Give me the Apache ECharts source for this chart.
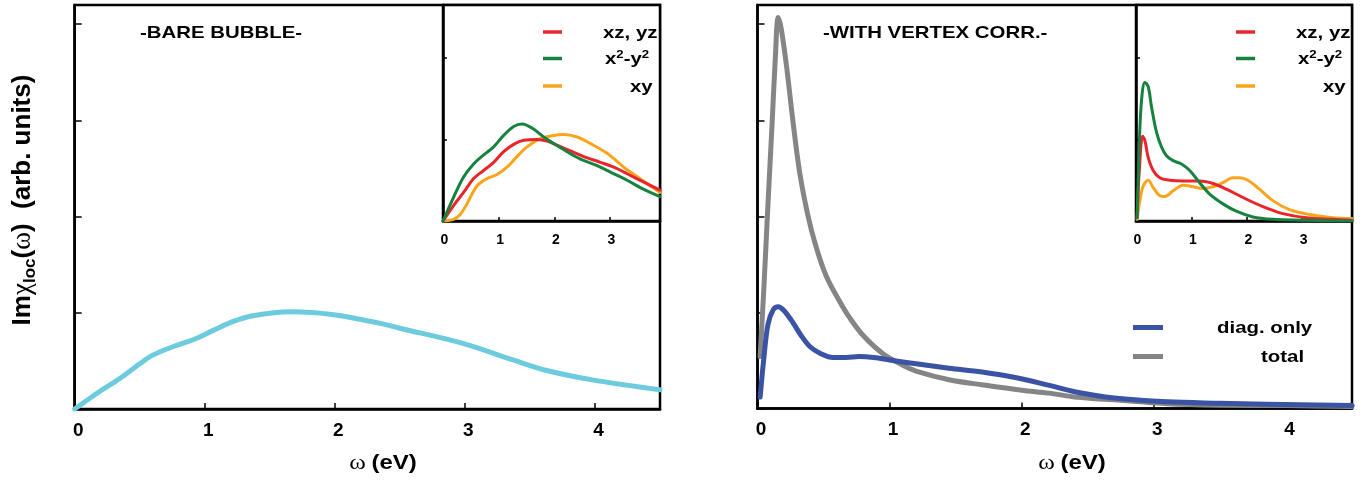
<!DOCTYPE html>
<html>
<head>
<meta charset="utf-8">
<script src="https://cdn.jsdelivr.net/npm/echarts@6/dist/echarts.min.js"></script>
<style>
  html, body { margin: 0; padding: 0; background: #fff; }
  #chart { width: 1368px; height: 481px; }
</style>
</head>
<body>
<div id="chart"></div>
<script>
// ---- data: Im chi_loc(omega), arbitrary units ----
// main panel, bare bubble
const omegaBare = [0, 0.2, 0.35, 0.5, 0.6, 0.76, 0.91, 1.07, 1.22, 1.37, 1.66, 1.99, 2.35, 2.5, 2.99, 3.37, 3.63, 3.99, 4.5];
const bareBubble = [0, 0.19, 0.32, 0.47, 0.56, 0.65, 0.72, 0.82, 0.91, 0.97, 1.01, 0.98, 0.89, 0.84, 0.68, 0.51, 0.40, 0.30, 0.20];

// main panel, with vertex corrections
const omegaDiag = [0.02, 0.05, 0.08, 0.12, 0.157, 0.2, 0.27, 0.33, 0.4, 0.48, 0.57, 0.67, 0.77, 0.88, 1.0, 1.2, 1.45, 1.7, 1.96, 2.21, 2.4, 2.7, 3.1, 3.5, 3.85, 4.5];
const diagOnly = [0.12, 0.55, 0.88, 1.03, 1.06, 1.02, 0.89, 0.76, 0.64, 0.57, 0.53, 0.53, 0.54, 0.53, 0.505, 0.465, 0.42, 0.38, 0.32, 0.24, 0.175, 0.11, 0.07, 0.055, 0.045, 0.03];
const omegaTotal = [0.02, 0.05, 0.08, 0.11, 0.135, 0.157, 0.18, 0.22, 0.27, 0.32, 0.38, 0.44, 0.52, 0.62, 0.7, 0.8, 0.95, 1.1, 1.2, 1.45, 1.71, 2.0, 2.21, 2.4, 2.8, 3.1, 3.5, 4.0, 4.5];
const total = [0.54, 1.30, 2.15, 2.95, 3.65, 4.07, 3.95, 3.56, 2.97, 2.45, 2.02, 1.70, 1.38, 1.12, 0.94, 0.76, 0.57, 0.45, 0.39, 0.30, 0.245, 0.19, 0.16, 0.12, 0.08, 0.05, 0.035, 0.03, 0.02];

// inset, bare bubble by orbital
const omegaBareXZ = [0, 0.19, 0.37, 0.55, 0.73, 0.91, 1.09, 1.27, 1.45, 1.69, 1.87, 2.05, 2.29, 2.53, 2.83, 3.07, 3.31, 3.6, 3.9];
const bareXZ = [0, 0.19, 0.35, 0.52, 0.62, 0.72, 0.85, 0.94, 0.99, 1.0, 0.98, 0.93, 0.86, 0.79, 0.72, 0.66, 0.58, 0.48, 0.38];
const omegaBareX2Y2 = [0, 0.19, 0.37, 0.55, 0.73, 0.91, 1.09, 1.27, 1.42, 1.6, 1.81, 1.99, 2.23, 2.47, 2.77, 3.01, 3.31, 3.6, 3.9];
const bareX2Y2 = [0, 0.29, 0.54, 0.70, 0.81, 0.91, 1.05, 1.16, 1.19, 1.14, 1.03, 0.95, 0.85, 0.76, 0.68, 0.60, 0.50, 0.39, 0.30];
const omegaBareXY = [0, 0.19, 0.31, 0.43, 0.61, 0.79, 0.97, 1.15, 1.33, 1.51, 1.75, 1.99, 2.17, 2.41, 2.65, 2.95, 3.25, 3.54, 3.9];
const bareXY = [0, 0.02, 0.08, 0.21, 0.43, 0.52, 0.57, 0.66, 0.79, 0.91, 1.01, 1.05, 1.06, 1.03, 0.95, 0.83, 0.66, 0.52, 0.35];

// inset, with vertex corrections by orbital
const omegaVtxXZ = [0.02, 0.06, 0.12, 0.16, 0.22, 0.31, 0.43, 0.61, 0.85, 1.15, 1.39, 1.63, 1.87, 2.11, 2.35, 2.65, 3.07, 3.55, 3.9];
const vtxXZ = [0.04, 0.62, 1.04, 0.99, 0.78, 0.62, 0.53, 0.50, 0.49, 0.49, 0.46, 0.39, 0.31, 0.23, 0.16, 0.09, 0.04, 0.02, 0.01];
const omegaVtxX2Y2 = [0.02, 0.06, 0.1, 0.16, 0.22, 0.28, 0.37, 0.46, 0.55, 0.67, 0.82, 0.97, 1.15, 1.33, 1.57, 1.81, 2.11, 2.47, 2.95, 3.9];
const vtxX2Y2 = [0.04, 0.95, 1.48, 1.70, 1.65, 1.40, 1.09, 0.91, 0.80, 0.74, 0.70, 0.62, 0.47, 0.33, 0.21, 0.12, 0.05, 0.02, 0.01, 0.0];
const omegaVtxXY = [0.02, 0.07, 0.13, 0.22, 0.31, 0.43, 0.52, 0.67, 0.85, 1.03, 1.21, 1.39, 1.57, 1.75, 1.87, 2.02, 2.23, 2.47, 2.77, 3.13, 3.55, 3.9];
const vtxXY = [0.02, 0.25, 0.43, 0.50, 0.41, 0.31, 0.30, 0.37, 0.44, 0.42, 0.40, 0.42, 0.47, 0.53, 0.53, 0.50, 0.39, 0.25, 0.14, 0.08, 0.04, 0.03];

// tick labels
const mainTicks = [0, 1, 2, 3, 4];
const insetTicks = [0, 1, 2, 3];

// ---- styling ----
const SANS = '"Liberation Sans", Arial, Helvetica, sans-serif';
const SERIF = '"Liberation Serif", "DejaVu Serif", serif';
const C = {
  cyan: '#6ccbdc', blue: '#3a53a4', gray: '#858585',
  red: '#e8262a', green: '#17823f', orange: '#f8a51c'
};

const pairs = (xs, ys) => xs.map((x, i) => [x, ys[i]]);

function xAxisFor(gridIndex, max, ticks, size, tickLen, margin, pad) {
  return {
    type: 'value', gridIndex, min: 0, max, interval: 1,
    axisLine: { show: true, onZero: false, lineStyle: { color: '#000', width: 2.5 } },
    axisTick: { show: true, inside: true, length: tickLen, lineStyle: { color: '#000', width: 1.5 } },
    axisLabel: {
      show: true, color: '#000', fontSize: size, fontWeight: 'bold', fontFamily: SANS,
      margin, padding: [0, 0, 0, pad], showMaxLabel: true,
      formatter: v => (ticks.includes(v) ? String(v) : '')
    },
    splitLine: { show: false }
  };
}
function yAxisFor(gridIndex, max, tickLen) {
  return {
    type: 'value', gridIndex, min: 0, max, interval: 1,
    axisLine: { show: true, onZero: false, lineStyle: { color: '#000', width: 2.5 } },
    axisTick: { show: true, inside: true, length: tickLen, lineStyle: { color: '#000', width: 1.5 } },
    axisLabel: { show: false },
    splitLine: { show: false }
  };
}
function line(idx, xs, ys, color, width, z) {
  return {
    type: 'line', xAxisIndex: idx, yAxisIndex: idx, data: pairs(xs, ys),
    symbol: 'none', showSymbol: false, smooth: 0.35,
    lineStyle: { color, width, cap: 'round', join: 'round' }, z, silent: true
  };
}

// text helpers for graphic elements
function label(x, y, text, opts) {
  opts = opts || {};
  return {
    type: 'text', x, y, scaleX: opts.scaleX || 1.2, scaleY: 1, rotation: opts.rotation || 0, z: 100,
    style: {
      text, fill: '#000',
      fontSize: opts.fontSize || 17, fontWeight: 'bold', fontFamily: SANS,
      align: opts.align || 'left', textAlign: opts.align || 'left',
      verticalAlign: 'middle', textVerticalAlign: 'middle',
      rich: opts.rich
    }
  };
}
function legendMark(x1, x2, y, color, w) {
  return { type: 'line', z: 100, shape: { x1, y1: y, x2, y2: y }, style: { stroke: color, lineWidth: w } };
}

const supRich = {
  m: { fontSize: 17, fontWeight: 'bold', fontFamily: SANS, fill: '#000', color: '#000', lineHeight: 20 },
  sup: { fontSize: 11, fontWeight: 'bold', fontFamily: SANS, fill: '#000', color: '#000', lineHeight: 11, verticalAlign: 'top' }
};
const orbitalLabels = [
  { text: '{m|xz, yz}', color: C.red },
  { text: '{m|x}{sup|2}{m|-y}{sup|2}', color: C.green },
  { text: '{m|xy}', color: C.orange }
];
const orbitalTextX = [603, 605, 630];
const orbitalRowY = [32, 58.5, 86];

function insetLegend(dx) {
  const items = [];
  orbitalLabels.forEach((o, i) => {
    items.push(legendMark(543 + dx, 562 + dx, orbitalRowY[i], o.color, 3.5));
    items.push(label(orbitalTextX[i] + dx, orbitalRowY[i] + 1, o.text, { rich: supRich }));
  });
  return items;
}

const axisNameRich = {
  g: { fontSize: 21, fontFamily: SERIF, fontWeight: 'normal', fill: '#000', color: '#000' },
  b: { fontSize: 20, fontFamily: SANS, fontWeight: 'bold', fill: '#000', color: '#000' }
};
const yNameRich = {
  a: { fontSize: 26, fontWeight: 'bold', fontFamily: SANS, fill: '#000', color: '#000', lineHeight: 32 },
  g: { fontSize: 27, fontWeight: 'normal', fontFamily: SERIF, fill: '#000', color: '#000', lineHeight: 32 },
  s: { fontSize: 17, fontWeight: 'bold', fontFamily: SANS, fill: '#000', color: '#000', lineHeight: 17, verticalAlign: 'bottom' }
};

const option = {
  animation: false,
  backgroundColor: '#fff',
  grid: [
    { left: 74.7, top: 5, width: 585.3, height: 404, show: true, borderColor: '#000', borderWidth: 2.5, backgroundColor: 'transparent', containLabel: false, outerBoundsMode: 'none' },
    { left: 757.5, top: 5, width: 594.5, height: 403.5, show: true, borderColor: '#000', borderWidth: 2.5, backgroundColor: 'transparent', containLabel: false, outerBoundsMode: 'none' },
    { left: 443, top: 5, width: 217, height: 216, show: true, borderColor: '#000', borderWidth: 2.5, backgroundColor: '#fff', containLabel: false, outerBoundsMode: 'none' },
    { left: 1136, top: 5, width: 216, height: 216, show: true, borderColor: '#000', borderWidth: 2.5, backgroundColor: '#fff', containLabel: false, outerBoundsMode: 'none' }
  ],
  xAxis: [
    xAxisFor(0, 4.5, mainTicks, 19, 6, 12, 7),
    xAxisFor(1, 4.5, mainTicks, 19, 6, 12, 7),
    xAxisFor(2, 3.9, insetTicks, 14, 4, 12, 3),
    xAxisFor(3, 3.9, insetTicks, 14, 4, 12, 3)
  ],
  yAxis: [
    yAxisFor(0, 4.2, 7),
    yAxisFor(1, 4.2, 7),
    yAxisFor(2, 2.65, 4),
    yAxisFor(3, 2.65, 4)
  ],
  series: [
    line(0, omegaBare, bareBubble, C.cyan, 5, 3),
    line(1, omegaDiag, diagOnly, C.blue, 5, 4),
    line(1, omegaTotal, total, C.gray, 5, 3),
    line(2, omegaBareXY, bareXY, C.orange, 3, 6),
    line(2, omegaBareXZ, bareXZ, C.red, 3, 7),
    line(2, omegaBareX2Y2, bareX2Y2, C.green, 3, 8),
    line(3, omegaVtxXY, vtxXY, C.orange, 3, 6),
    line(3, omegaVtxXZ, vtxXZ, C.red, 3, 7),
    line(3, omegaVtxX2Y2, vtxX2Y2, C.green, 3, 8)
  ],
  graphic: [
    // panel titles
    label(140, 33, '-BARE BUBBLE-'),
    label(823, 33, '-WITH VERTEX CORR.-'),
    // x axis names
    label(383, 463, '{g|ω} {b|(eV)}', { align: 'center', rich: axisNameRich }),
    label(1072, 463, '{g|ω} {b|(eV)}', { align: 'center', rich: axisNameRich }),
    // y axis name
    label(23, 200, '{a|Im}{g|χ}{s|loc}{a|(}{g|ω}{a|)  (arb. units)}',
      { align: 'center', rotation: Math.PI / 2, scaleX: 1, rich: yNameRich }),
    // orbital legends in the insets
    ...insetLegend(0),
    ...insetLegend(693),
    // main legend, right panel
    legendMark(1133, 1163, 327.5, C.blue, 5),
    legendMark(1133, 1163, 356.5, C.gray, 5),
    label(1217, 328, 'diag. only'),
    label(1261, 357, 'total')
  ]
};

const chart = echarts.init(document.getElementById('chart'), null, { renderer: 'canvas' });
chart.setOption(option);
</script>
</body>
</html>
